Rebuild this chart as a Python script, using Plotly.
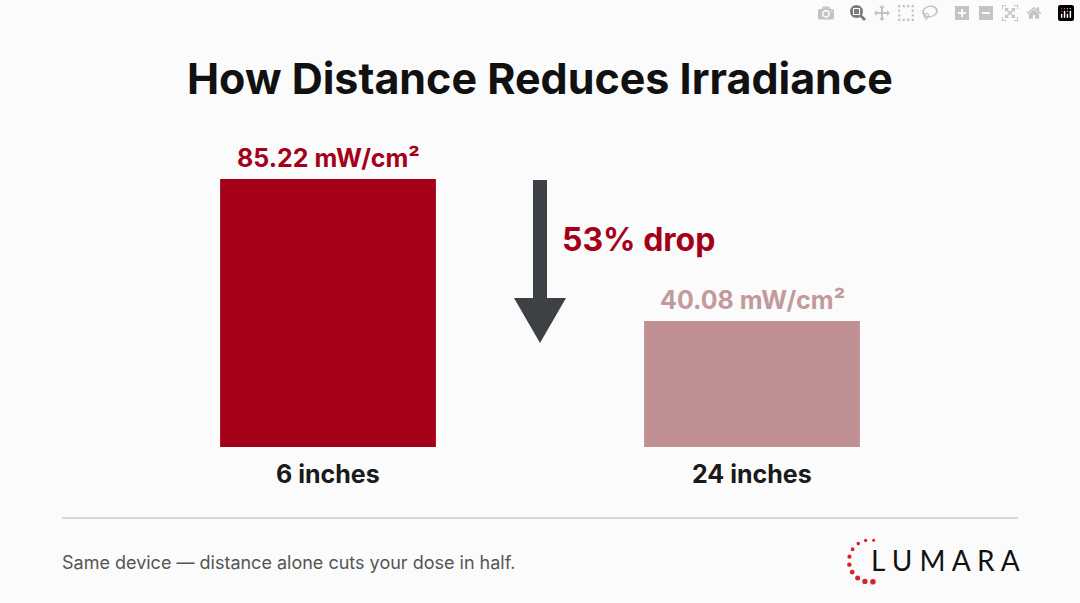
import math
import plotly.graph_objects as go

distances = ["6 inches", "24 inches"]
irradiance = [85.22, 40.08]
value_labels = ["85.22 mW/cm²", "40.08 mW/cm²"]
drop_label = "53% drop"

W, H = 1080, 603
bar_colors = ["#A50019", "#BF8F91"]
label_colors = ["#A50019", "#C29A9C"]

def px(x):
    return x / W

def py(y):
    return 1 - y / H

fig = go.Figure()
fig.add_trace(go.Bar(
    x=[0, 1], y=irradiance, width=0.509,
    marker=dict(color=bar_colors, line=dict(width=0)),
    hoverinfo="skip",
))

# value labels above bars, category labels below
for i, (v, lab) in enumerate(zip(irradiance, value_labels)):
    fig.add_annotation(x=i, y=v, text=f"<b>{lab}</b>", showarrow=False,
                       yanchor="bottom", yshift=4,
                       font=dict(size=25, color=label_colors[i], family="Inter"))
    fig.add_annotation(x=i, y=0, text=f"<b>{distances[i]}</b>", showarrow=False,
                       yanchor="top", yshift=-10,
                       font=dict(size=25, color="#1a1a1a", family="Inter"))

fig.add_annotation(x=px(540), y=py(78), xref="paper", yref="paper",
                   text="<b>How Distance Reduces Irradiance</b>", showarrow=False,
                   xanchor="center", yanchor="middle",
                   font=dict(size=43, color="#111", family="Inter"))
fig.add_annotation(x=px(560), y=py(240), xref="paper", yref="paper",
                   text=f"<b>{drop_label}</b>", showarrow=False,
                   xanchor="left", yanchor="middle",
                   font=dict(size=32, color="#A50019", family="Inter"))
fig.add_annotation(x=px(60), y=py(562), xref="paper", yref="paper",
                   text="Same device — distance alone cuts your dose in half.",
                   showarrow=False, xanchor="left", yanchor="middle",
                   font=dict(size=18, color="#555", family="Inter"))
fig.add_annotation(x=px(1022), y=py(560), xref="paper", yref="paper",
                   text="L U M A R A", showarrow=False,
                   xanchor="right", yanchor="middle",
                   font=dict(size=28, color="#111", family="Lato"))

shapes = [
    dict(type="line", xref="paper", yref="paper", x0=px(62), x1=px(1018),
         y0=py(518), y1=py(518), line=dict(color="#cccccc", width=1.5)),
    dict(type="rect", xref="paper", yref="paper", x0=px(533), x1=px(547),
         y0=py(180), y1=py(300), fillcolor="#3d4145", line=dict(width=0)),
    dict(type="path", xref="paper", yref="paper",
         path=f"M {px(514)} {py(298)} L {px(566)} {py(298)} L {px(540)} {py(343)} Z",
         fillcolor="#3d4145", line=dict(width=0)),
]
# logo dots on an arc, top going round the left to bottom-right
cx, cy, r = 870, 561, 21
for k, ang in enumerate(range(80, 300, 22)):
    a = math.radians(ang)
    x = cx + r * math.cos(a)
    y = cy - r * math.sin(a)
    s = 1.5 + 1.3 * k / 9
    shapes.append(dict(type="circle", xref="paper", yref="paper",
                       x0=px(x - s), x1=px(x + s), y0=py(y - s), y1=py(y + s),
                       fillcolor="#d8222a", line=dict(width=0)))
fig.update_layout(shapes=shapes)

fig.update_layout(
    width=W, height=H, margin=dict(l=0, r=0, t=0, b=0),
    paper_bgcolor="#fbfbfb", plot_bgcolor="#fbfbfb", showlegend=False,
    xaxis=dict(range=[-0.7736, 1.7736], visible=False),
    yaxis=dict(range=[-49.6, 142.1], visible=False),
)
fig.write_html("out.html",
               post_script="document.body.style.margin='0';document.body.style.overflow='hidden';")
